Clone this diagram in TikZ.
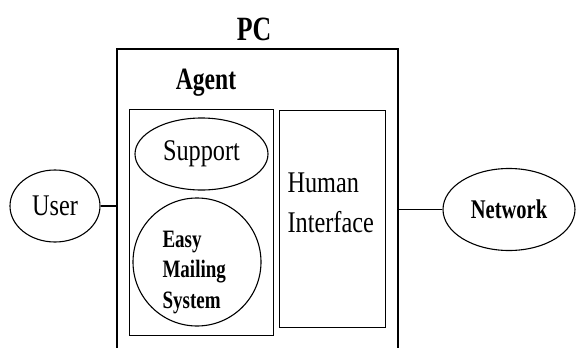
\documentclass[tikz,border=0pt]{standalone}
\usepackage{fontspec}
\newfontfamily\regfont{Liberation Serif}[FakeStretch=0.81]
\newfontfamily\boldfont{Liberation Serif}[FakeStretch=0.76]
\usetikzlibrary{shapes.geometric}

\begin{document}
\begin{tikzpicture}[
        x=1pt, y=-1pt, line width=1.1pt,
        box/.style={rectangle, draw, inner sep=0pt},
        oval/.style={ellipse, draw, inner sep=0pt},
        ring/.style={circle, draw, inner sep=0pt},
        plain/.style={font=\regfont\fontsize{30}{40}\selectfont},
        heavy/.style={font=\boldfont\bfseries\fontsize{#1}{30.5}\selectfont},
        line/.style={draw},
    ]
    \useasboundingbox (0,0) rectangle (576,348);
    \clip (0,0) rectangle (576,348);

    % Nodes
    \node [heavy=34, anchor=base] (pc) at (254,40) {PC};
    \node [box, minimum width=281, minimum height=303] (pcbox) at (257.5,200.5) {};
    \node [heavy=31, anchor=base] (agentlabel) at (206,89) {Agent};
    \node [box, minimum width=144, minimum height=225.5] (agent) at (201.4,222.3) {};
    \node [box, minimum width=106, minimum height=217] (interface) at (332.6,219) {};
    \node [plain, align=left, anchor=base west, inner sep=0pt] (interfacetext) at (287,232) {Human\\Interface};
    \node [oval, plain, minimum width=133, minimum height=72] (support) at (201.5,154) {Support};
    \node [ring, minimum size=128] (mailing) at (197,262) {};
    \node [heavy=25, align=left, anchor=base west, inner sep=0pt] (mailingtext) at (162,308) {Easy\\Mailing\\System};
    \node [oval, plain, minimum width=90, minimum height=72] (user) at (55,206) {User};
    \node [oval, heavy=27, minimum width=132, minimum height=82] (network) at (509,209.5) {Network};

    % Lines
    \path [line] (user.east) -- (user.east -| pcbox.west);
    \path [line] (network.west) -- (network.west -| pcbox.east);

\end{tikzpicture}
\end{document}
